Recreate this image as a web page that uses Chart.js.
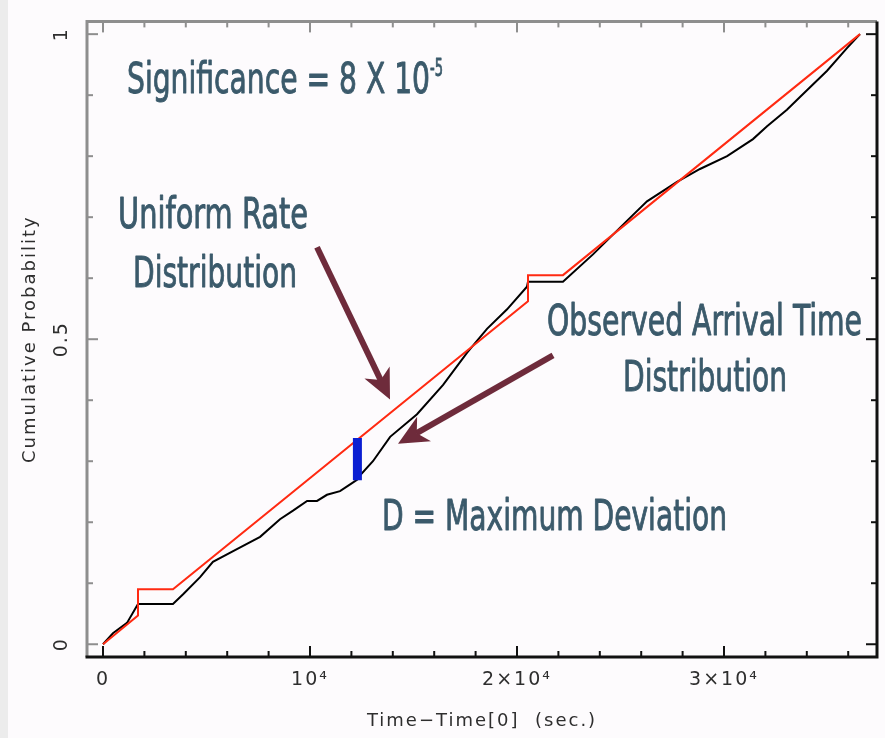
<!DOCTYPE html>
<html>
<head>
<meta charset="utf-8">
<script src="https://cdn.jsdelivr.net/npm/chart.js@4.4.1/dist/chart.umd.min.js"></script>
<style>
  html, body { margin: 0; padding: 0; }
  body { width: 885px; height: 738px; background: linear-gradient(to right, #ececec 0, #ececec 8px, #fdfbfd 8px); }
  #wrap { position: relative; width: 885px; height: 738px; }
</style>
</head>
<body>
<div id="wrap"><canvas id="ksChart"></canvas></div>
<script>
// uniform rate expectation (red), flat across the two data gaps
const uniformTime = [0, 1690, 1690, 3380, 20530, 20530, 22220, 36570];
const uniformProb = [0, 0.047, 0.090, 0.090, 0.562, 0.605, 0.605, 1.0];

// observed arrival times (black)
const observedTime = [0, 480, 1160, 1690, 3380, 3870, 4690, 5310, 6470, 7590, 8550, 9180, 9860, 10340,
  10820, 11450, 12030, 12290, 12420, 13040, 13870, 15170, 16430, 17590, 18550, 19520, 20480, 20530,
  22220, 23670, 25310, 26280, 27730, 28840, 30150, 31400, 32080, 33040, 33670, 34980, 35940, 36570];
const observedProb = [0, 0.018, 0.035, 0.066, 0.066, 0.082, 0.110, 0.135, 0.156, 0.176, 0.205, 0.219, 0.235, 0.235,
  0.245, 0.251, 0.264, 0.270, 0.277, 0.300, 0.340, 0.377, 0.425, 0.478, 0.517, 0.549, 0.586, 0.594,
  0.594, 0.639, 0.694, 0.726, 0.758, 0.779, 0.800, 0.828, 0.849, 0.876, 0.897, 0.940, 0.977, 1.0];

// D, the maximum deviation (blue bar)
const deviationTime = [12290, 12290];
const deviationProb = [0.338, 0.269];

const xTickValues = [0, 10000, 20000, 30000];
const xTickLabels = ['0', '10⁴', '2×10⁴', '3×10⁴'];
const yTickValues = [0, 0.5, 1];
const yTickLabels = ['0', '0.5', '1'];

// annotation text, anchored in data units (left edge, baseline), w = width in px
const notes = [
  { text: 'Significance = 8 X 10', x: 1159, y: 0.9034, w: 303, size: 42 },
  { text: '-5', x: 15797, y: 0.9308, w: 13, size: 24 },
  { text: 'Uniform Rate', x: 725, y: 0.6828, w: 190, size: 42 },
  { text: 'Distribution', x: 1449, y: 0.5862, w: 164, size: 42 },
  { text: 'Observed Arrival Time', x: 21450, y: 0.5072, w: 315, size: 42 },
  { text: 'Distribution', x: 25121, y: 0.4155, w: 164, size: 42 },
  { text: 'D = Maximum Deviation', x: 13478, y: 0.1868, w: 345, size: 42 }
];
const arrows = [
  { from: [10338, 0.6506], to: [13865, 0.401] },
  { from: [21740, 0.4734], to: [14251, 0.3285] }
];

function toPoints(xs, ys) {
  return xs.map((t, i) => ({ x: t, y: ys[i] }));
}

const frameAndNotes = {
  id: 'frameAndNotes',
  beforeDraw(chart) {
    chart.ctx.letterSpacing = '2px';
  },
  afterDraw(chart) {
    const { ctx, chartArea: a, scales: { x, y } } = chart;
    ctx.save();
    ctx.letterSpacing = '0px';
    ctx.lineCap = 'butt';

    // inward ticks on all four sides
    ctx.lineWidth = 2;
    for (let v = 0; v <= 36000; v += 2000) {
      const px = x.getPixelForValue(v);
      const len = v % 10000 === 0 ? 11 : 6;
      ctx.strokeStyle = '#111';
      ctx.beginPath(); ctx.moveTo(px, a.bottom); ctx.lineTo(px, a.bottom - len); ctx.stroke();
      ctx.strokeStyle = '#8e8e8e';
      ctx.beginPath(); ctx.moveTo(px, a.top); ctx.lineTo(px, a.top + len); ctx.stroke();
    }
    for (let k = 0; k <= 10; k++) {
      const py = y.getPixelForValue(k / 10);
      const len = k % 5 === 0 ? 11 : 6;
      ctx.strokeStyle = '#8e8e8e';
      ctx.beginPath(); ctx.moveTo(a.left, py); ctx.lineTo(a.left + len, py); ctx.stroke();
      ctx.strokeStyle = '#111';
      ctx.beginPath(); ctx.moveTo(a.right, py); ctx.lineTo(a.right - len, py); ctx.stroke();
    }

    // frame
    ctx.lineWidth = 3;
    ctx.strokeStyle = '#8e8e8e';
    ctx.beginPath(); ctx.moveTo(a.left, a.bottom); ctx.lineTo(a.left, a.top); ctx.lineTo(a.right, a.top); ctx.stroke();
    ctx.strokeStyle = '#111';
    ctx.beginPath(); ctx.moveTo(a.right, a.top); ctx.lineTo(a.right, a.bottom); ctx.lineTo(a.left - 1.5, a.bottom); ctx.stroke();

    // arrows
    ctx.strokeStyle = '#6e2b3b';
    ctx.fillStyle = '#6e2b3b';
    arrows.forEach(ar => {
      const x0 = x.getPixelForValue(ar.from[0]), y0 = y.getPixelForValue(ar.from[1]);
      const x1 = x.getPixelForValue(ar.to[0]), y1 = y.getPixelForValue(ar.to[1]);
      const d = Math.hypot(x1 - x0, y1 - y0);
      const ux = (x1 - x0) / d, uy = (y1 - y0) / d;
      const nx = -uy, ny = ux;
      const L = 30, hw = 14;
      ctx.lineWidth = 6;
      ctx.beginPath(); ctx.moveTo(x0, y0); ctx.lineTo(x1 - ux * L * 0.7, y1 - uy * L * 0.7); ctx.stroke();
      ctx.beginPath();
      ctx.moveTo(x1, y1);
      ctx.lineTo(x1 - ux * L + nx * hw, y1 - uy * L + ny * hw);
      ctx.lineTo(x1 - ux * L * 0.72, y1 - uy * L * 0.72);
      ctx.lineTo(x1 - ux * L - nx * hw, y1 - uy * L - ny * hw);
      ctx.closePath();
      ctx.fill();
    });

    // text notes, squeezed to the measured width, slightly heavier stroke
    ctx.fillStyle = '#3b5a6b';
    ctx.strokeStyle = '#3b5a6b';
    ctx.lineWidth = 0.9;
    ctx.lineJoin = 'round';
    ctx.textBaseline = 'alphabetic';
    notes.forEach(n => {
      ctx.font = n.size + "px 'Liberation Sans Narrow', 'DejaVu Sans Condensed', sans-serif";
      const m = ctx.measureText(n.text).width;
      ctx.save();
      ctx.translate(x.getPixelForValue(n.x), y.getPixelForValue(n.y));
      ctx.scale(n.w / m, 1);
      ctx.fillText(n.text, 0, 0);
      ctx.strokeText(n.text, 0, 0);
      ctx.restore();
    });
    ctx.restore();
  }
};

const tickFont = { family: 'DejaVu Sans', size: 19 };
const titleFont = { family: 'DejaVu Sans', size: 18 };

new Chart(document.getElementById('ksChart'), {
  type: 'line',
  data: {
    datasets: [
      {
        label: 'D = Maximum Deviation',
        data: toPoints(deviationTime, deviationProb),
        borderColor: '#0b1ed2',
        borderWidth: 9,
        borderCapStyle: 'butt',
        order: 0
      },
      {
        label: 'Uniform Rate Distribution',
        data: toPoints(uniformTime, uniformProb),
        borderColor: '#ff2a12',
        borderWidth: 2,
        order: 1
      },
      {
        label: 'Observed Arrival Time Distribution',
        data: toPoints(observedTime, observedProb),
        borderColor: '#000000',
        borderWidth: 2,
        order: 2
      }
    ]
  },
  options: {
    responsive: true,
    maintainAspectRatio: false,
    animation: false,
    layout: { padding: { left: 0, right: 8, top: 10, bottom: 0 } },
    elements: { point: { radius: 0 }, line: { tension: 0 } },
    plugins: { legend: { display: false }, tooltip: { enabled: false } },
    scales: {
      x: {
        type: 'linear',
        min: -773,
        max: 37391,
        grid: { display: false, drawTicks: false },
        border: { display: false },
        afterBuildTicks: s => { s.ticks = xTickValues.map(v => ({ value: v })); },
        afterFit: s => { s.height = 81; },
        ticks: {
          autoSkip: false,
          maxRotation: 0,
          padding: 12,
          color: '#2e2e2e',
          font: tickFont,
          callback: v => xTickLabels[xTickValues.indexOf(v)]
        },
        title: {
          display: true,
          text: 'Time−Time[0]  (sec.)',
          color: '#2e2e2e',
          font: titleFont,
          padding: { top: 0, bottom: 6 }
        }
      },
      y: {
        type: 'linear',
        min: -0.0209,
        max: 1.0209,
        grid: { display: false, drawTicks: false },
        border: { display: false },
        afterBuildTicks: s => { s.ticks = yTickValues.map(v => ({ value: v })); },
        afterFit: s => { s.width = 87; },
        ticks: {
          autoSkip: false,
          minRotation: 90,
          maxRotation: 90,
          crossAlign: 'center',
          padding: 10,
          color: '#2e2e2e',
          font: tickFont,
          callback: v => yTickLabels[yTickValues.indexOf(v)]
        },
        title: {
          display: true,
          text: 'Cumulative Probability',
          color: '#2e2e2e',
          font: titleFont,
          padding: { top: 20, bottom: 0 }
        }
      }
    }
  },
  plugins: [frameAndNotes]
});
</script>
</body>
</html>
